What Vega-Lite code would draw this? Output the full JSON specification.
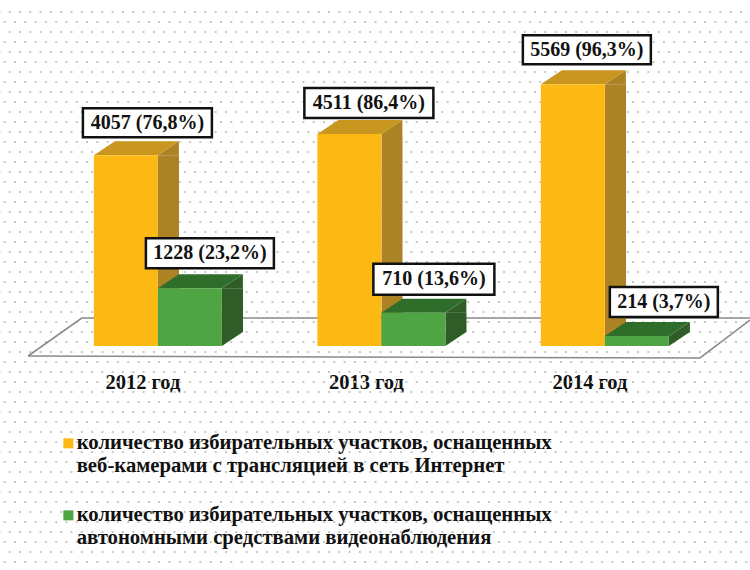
{"$schema":"https://vega.github.io/schema/vega-lite/v6.json","width":750,"height":570,"padding":0,"autosize":"none","background":"white","view":{"stroke":null},
"datasets":{"bars":[
{"year":"2012 год","series":"количество избирательных участков, оснащенных\nвеб-камерами с трансляцией в сеть Интернет","kind":"web","value":4057,"label":"4057 (76,8%)"},
{"year":"2012 год","series":"количество избирательных участков, оснащенных\nавтономными средствами видеонаблюдения","kind":"auto","value":1228,"label":"1228 (23,2%)"},
{"year":"2013 год","series":"количество избирательных участков, оснащенных\nвеб-камерами с трансляцией в сеть Интернет","kind":"web","value":4511,"label":"4511 (86,4%)"},
{"year":"2013 год","series":"количество избирательных участков, оснащенных\nавтономными средствами видеонаблюдения","kind":"auto","value":710,"label":"710 (13,6%)"},
{"year":"2014 год","series":"количество избирательных участков, оснащенных\nвеб-камерами с трансляцией в сеть Интернет","kind":"web","value":5569,"label":"5569 (96,3%)"},
{"year":"2014 год","series":"количество избирательных участков, оснащенных\nавтономными средствами видеонаблюдения","kind":"auto","value":214,"label":"214 (3,7%)"}],
"floor":[{"p":-0.08,"h":-213,"o":0},{"p":0.16,"h":596,"o":1},{"p":3.15,"h":596,"o":2}],
"floor2":[{"p":-0.08,"h":-213,"o":0},{"p":2.926,"h":-255,"o":1},{"p":3.15,"h":553,"o":2}],
"bg":[{"b":7106,"r":"a"},{"b":6894,"r":"b"},{"b":6681,"r":"a"},{"b":6468,"r":"b"},{"b":6255,"r":"a"},{"b":6043,"r":"b"},{"b":5830,"r":"a"},{"b":5617,"r":"b"},{"b":5404,"r":"a"},{"b":5191,"r":"b"},{"b":4979,"r":"a"},{"b":4766,"r":"b"},{"b":4553,"r":"a"},{"b":4340,"r":"b"},{"b":4128,"r":"a"},{"b":3915,"r":"b"},{"b":3702,"r":"a"},{"b":3489,"r":"b"},{"b":3277,"r":"a"},{"b":3064,"r":"b"},{"b":2851,"r":"a"},{"b":2638,"r":"b"},{"b":2426,"r":"a"},{"b":2213,"r":"b"},{"b":2000,"r":"a"},{"b":1787,"r":"b"},{"b":1574,"r":"a"},{"b":1362,"r":"b"},{"b":1149,"r":"a"},{"b":936,"r":"b"},{"b":723,"r":"a"},{"b":511,"r":"b"},{"b":298,"r":"a"},{"b":85,"r":"b"},{"b":-128,"r":"a"},{"b":-340,"r":"b"},{"b":-553,"r":"a"},{"b":-766,"r":"b"},{"b":-979,"r":"a"},{"b":-1191,"r":"b"},{"b":-1404,"r":"a"},{"b":-1617,"r":"b"},{"b":-1830,"r":"a"},{"b":-2043,"r":"b"},{"b":-2255,"r":"a"},{"b":-2468,"r":"b"},{"b":-2681,"r":"a"},{"b":-2894,"r":"b"},{"b":-3106,"r":"a"},{"b":-3319,"r":"b"},{"b":-3532,"r":"a"},{"b":-3745,"r":"b"},{"b":-3957,"r":"a"},{"b":-4170,"r":"b"},{"b":-4383,"r":"a"},{"b":-4596,"r":"b"}]},
"resolve":{"scale":{"x":"independent"}},
"layer":[
{"data":{"name":"bg"},"transform":[{"filter":"datum.r==='a'"}],"mark":{"type":"rule","stroke":"#c8c8c2","strokeWidth":2,"strokeDash":[2,8.3],"strokeDashOffset":-8},"encoding":{"y":{"field":"b","type":"quantitative","axis":null,"scale":{"domain":[-4766,7362],"nice":false,"zero":false}}}},
{"data":{"name":"bg"},"transform":[{"filter":"datum.r==='b'"}],"mark":{"type":"rule","stroke":"#c8c8c2","strokeWidth":2,"strokeDash":[2,8.3],"strokeDashOffset":-13},"encoding":{"y":{"field":"b","type":"quantitative","axis":null,"scale":{"domain":[-4766,7362],"nice":false,"zero":false}}}},
{"data":{"name":"floor"},"mark":{"type":"line","stroke":"#8a8a8a","strokeWidth":1.6,"clip":true},"encoding":{"x":{"field":"p","type":"quantitative","axis":null,"scale":{"domain":[-0.2058,3.1499],"nice":false,"zero":false}},"y":{"field":"h","type":"quantitative","axis":null,"scale":{"domain":[-4766,7362],"nice":false,"zero":false}},"order":{"field":"o"}}},
{"data":{"name":"floor2"},"mark":{"type":"line","stroke":"#8a8a8a","strokeWidth":1.6,"clip":true},"encoding":{"x":{"field":"p","type":"quantitative","axis":null,"scale":{"domain":[-0.2058,3.1499],"nice":false,"zero":false}},"y":{"field":"h","type":"quantitative","axis":null,"scale":{"domain":[-4766,7362],"nice":false,"zero":false}},"order":{"field":"o"}}},
{"data":{"name":"bars"},"transform":[{"filter":"datum.value>298"},{"calculate":"indexof(['2012 год','2013 год','2014 год'],datum.year)+(datum.kind==='web'?0.5011:0.7875)","as":"sx"},{"calculate":"datum.sx+0.094","as":"sx2"}],"mark":{"type":"rect"},"encoding":{"x":{"field":"sx","type":"quantitative","axis":null,"scale":{"domain":[-0.2058,3.1499],"nice":false,"zero":false}},"x2":{"field":"sx2"},"y":{"field":"value","type":"quantitative","axis":null,"scale":{"domain":[-4766,7362],"nice":false,"zero":false}},"y2":{"datum":298},"fill":{"condition":{"test":"datum.kind==='web'","value":"#ab8324"},"value":"#2f5c27"}}},
{"data":{"name":"bars"},
"encoding":{
"x":{"field":"year","type":"nominal","sort":null,"scale":{"domain":["2012 год","2013 год","2014 год"],"paddingInner":0,"paddingOuter":0.178,"align":0.58},"axis":{"title":null,"orient":"bottom","offset":-198,"labelPadding":0,"ticks":false,"domain":false,"labelAngle":0,"labelOffset":-15,"labelFont":"Liberation Serif","labelFontWeight":"bold","labelFontSize":20.5,"labelColor":"#111111"}},
"xOffset":{"field":"kind","type":"nominal","sort":null,"scale":{"domain":["web","auto"],"range":[47.75,175.75]}},
"y":{"field":"value","type":"quantitative","axis":null,"scale":{"domain":[-4766,7362],"nice":false,"zero":false}}},
"layer":[
{"transform":[{"filter":"datum.value>298"}],"mark":{"type":"point","filled":true,"opacity":1,"size":4,"shape":"M32,0L53,-14L53,0Z"},"encoding":{"fill":{"condition":{"test":"datum.kind==='web'","value":"#ab8324"},"value":"#2f5c27"}}},
{"transform":[{"filter":"datum.value>298"}],"mark":{"type":"point","filled":true,"opacity":1,"size":4,"shape":"M32,0L53,-14L32,-14Z"},"encoding":{"y":{"datum":0},"fill":{"condition":{"test":"datum.kind==='web'","value":"#ab8324"},"value":"#2f5c27"}}},
{"transform":[{"filter":"datum.value<=298"}],"mark":{"type":"point","filled":true,"opacity":1,"size":4,"fill":"#2f5c27","shape":"M32,0L53,-14L53,-4L32,10Z"}},
{"mark":{"type":"point","filled":true,"opacity":1,"size":4,"shape":"M-32,0L32,0L53,-14L-11,-14Z"},"encoding":{"fill":{"condition":{"test":"datum.kind==='web'","value":"#c9961f"},"value":"#2e6e2a"}}},
{"mark":{"type":"bar","width":64},"encoding":{"y2":{"datum":0},"fill":{"field":"series","type":"nominal","sort":null,"scale":{"domain":["количество избирательных участков, оснащенных\nвеб-камерами с трансляцией в сеть Интернет","количество избирательных участков, оснащенных\nавтономными средствами видеонаблюдения"],"range":["#fdb913","#4fa444"]},"legend":{"title":null,"orient":"none","legendX":58,"legendY":433,"symbolType":"M-5,-5H5V5H-5Z","symbolSize":4,"symbolStrokeWidth":0,"labelFont":"Liberation Serif","labelFontWeight":"bold","labelFontSize":20.7,"labelColor":"#111111","labelLimit":600,"labelOffset":-2,"rowPadding":28,"labelExpr":"split(datum.label,'\\n')","encoding":{"labels":{"update":{"lineHeight":{"value":25}}}}}}}},
{"mark":{"type":"point","filled":false,"opacity":1,"size":4,"fill":"white","fillOpacity":1,"stroke":"#111111","strokeWidth":2.5},"encoding":{"shape":{"field":"label","type":"nominal","legend":null,"scale":{"domain":["4057 (76,8%)","1228 (23,2%)","4511 (86,4%)","710 (13,6%)","5569 (96,3%)","214 (3,7%)"],"range":["M-43,-47H86V-18H-43Z","M-44,-50H84V-20H-44Z","M-45,-46H84V-16H-45Z","M-40,-49H81V-18H-40Z","M-50,-49H78V-20H-50Z","M-27,-49H81V-19H-27Z"]}}}},
{"transform":[{"filter":"datum.label==='4057 (76,8%)'"}],"mark":{"type":"text","dx":21.5,"dy":-32.5,"font":"Liberation Serif","fontWeight":"bold","fontSize":20,"fill":"#111111"},"encoding":{"text":{"field":"label"}}},
{"transform":[{"filter":"datum.label==='1228 (23,2%)'"}],"mark":{"type":"text","dx":20,"dy":-35,"font":"Liberation Serif","fontWeight":"bold","fontSize":20,"fill":"#111111"},"encoding":{"text":{"field":"label"}}},
{"transform":[{"filter":"datum.label==='4511 (86,4%)'"}],"mark":{"type":"text","dx":19.5,"dy":-31,"font":"Liberation Serif","fontWeight":"bold","fontSize":20,"fill":"#111111"},"encoding":{"text":{"field":"label"}}},
{"transform":[{"filter":"datum.label==='710 (13,6%)'"}],"mark":{"type":"text","dx":20.5,"dy":-33.5,"font":"Liberation Serif","fontWeight":"bold","fontSize":20,"fill":"#111111"},"encoding":{"text":{"field":"label"}}},
{"transform":[{"filter":"datum.label==='5569 (96,3%)'"}],"mark":{"type":"text","dx":14,"dy":-34.5,"font":"Liberation Serif","fontWeight":"bold","fontSize":20,"fill":"#111111"},"encoding":{"text":{"field":"label"}}},
{"transform":[{"filter":"datum.label==='214 (3,7%)'"}],"mark":{"type":"text","dx":27,"dy":-34,"font":"Liberation Serif","fontWeight":"bold","fontSize":20,"fill":"#111111"},"encoding":{"text":{"field":"label"}}}
]}
]}
